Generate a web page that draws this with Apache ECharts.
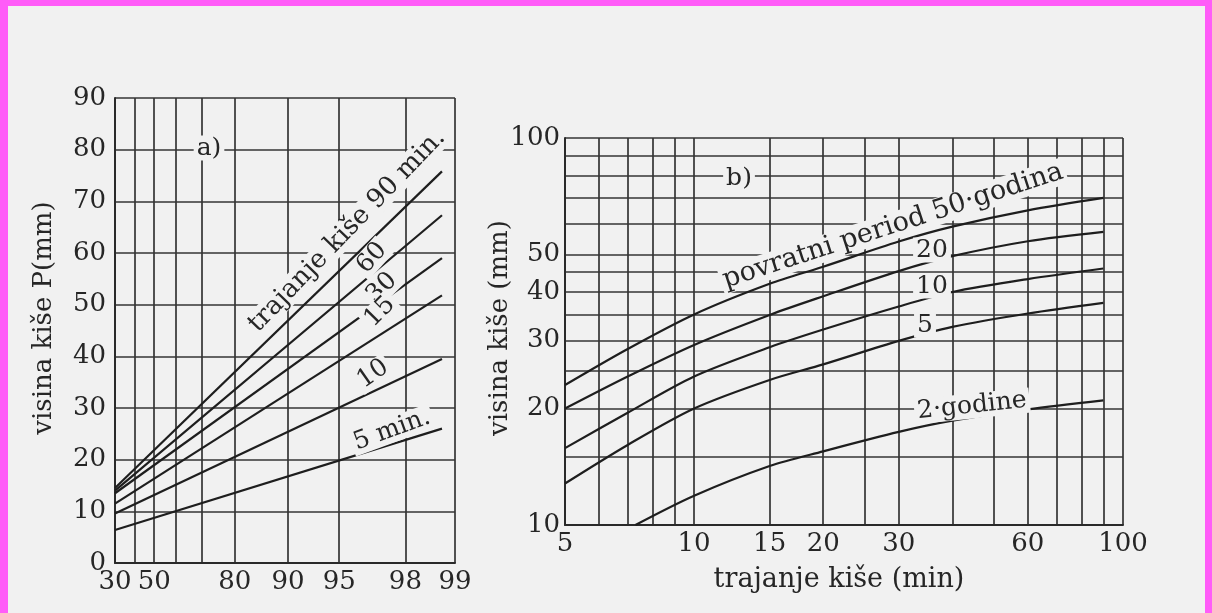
<!DOCTYPE html>
<html>
<head>
<meta charset="utf-8">
<script src="https://cdn.jsdelivr.net/npm/echarts@6/dist/echarts.min.js"></script>
<style>
  html, body { margin: 0; padding: 0; background: #ff5cf8; }
  #paper { position: absolute; left: 8px; top: 6px; width: 1197px; height: 607px; background: #f1f1f1; }
  #chart { position: absolute; left: 0; top: 0; width: 1212px; height: 613px; }
</style>
</head>
<body>
<div id="paper"></div>
<div id="chart"></div>
<script>
// ---------- panel a) : depth vs. probability (Gumbel probability paper) ----------
const probGrid   = [30, 40, 50, 60, 70, 80, 90, 95, 98, 99];
const probLabels = [30, 50, 80, 90, 95, 98, 99];
const probEnds   = [30, 98.8];          // each duration line runs between these probabilities
const depth5min  = [6.4, 26.0];
const depth10min = [9.6, 39.5];
const depth15min = [11.5, 51.8];
const depth30min = [13.5, 59.0];
const depth60min = [14.0, 67.3];
const depth90min = [14.5, 75.8];

// ---------- panel b) : depth vs. duration (log-log) ----------
const durGrid     = [5, 6, 7, 8, 9, 10, 15, 20, 25, 30, 40, 50, 60, 70, 80, 90, 100];
const durLabels   = [5, 10, 15, 20, 30, 60, 100];
const depthGridB  = [10, 15, 20, 25, 30, 35, 40, 45, 50, 60, 70, 80, 90, 100];
const depthLabelB = [10, 20, 30, 40, 50, 100];
const durations   = [5, 7, 10, 15, 20, 30, 40, 60, 90];
const rp50 = [23.0, 28.5, 35.0, 42.0, 46.5, 54.0, 59.0, 65.0, 70.0];
const rp20 = [20.0, 24.2, 29.2, 34.9, 39.0, 45.3, 49.5, 54.1, 57.2];
const rp10 = [15.8, 19.5, 24.2, 28.8, 32.0, 36.7, 40.0, 43.2, 46.0];
const rp5  = [12.8, 16.1, 20.0, 23.7, 26.0, 29.9, 32.5, 35.2, 37.5];
const durations2 = [7.3, 10, 15, 20, 30, 40, 60, 90];
const rp2  = [10.0, 11.9, 14.2, 15.5, 17.4, 18.6, 19.9, 21.0];

// Gumbel reduced variate for a non-exceedance probability in %
const gumbel = p => -Math.log(-Math.log(p / 100));
const ungumbel = v => 100 * Math.exp(-Math.exp(-v));
const lg = Math.log10;

const INK = '#262626';
const PAPER = '#f1f1f1';
const FONT = '"DejaVu Serif", "Liberation Serif", serif';
const gridLine = { show: true, lineStyle: { color: '#353535', width: 1.7 } };
const axisLine = { show: true, onZero: false, lineStyle: { color: '#2a2a2a', width: 2 } };
const labelStyle = { color: INK, fontFamily: FONT, fontSize: 26 };

const chart = echarts.init(document.getElementById('chart'), null, { renderer: 'canvas' });

function lineSeries(xi, yi, pts) {
  return {
    type: 'line', xAxisIndex: xi, yAxisIndex: yi, data: pts,
    symbol: 'none', smooth: xi === 1 ? 0.3 : false,
    lineStyle: { color: '#1e1e1e', width: 2.2 }, silent: true, z: 3
  };
}
const aLine = vals => lineSeries(0, 0, probEnds.map((p, i) => [gumbel(p), vals[i]]));
const bLine = (durs, vals) => lineSeries(1, 1, durs.map((d, i) => [lg(d), lg(vals[i])]));

const option = {
  backgroundColor: 'transparent',
  animation: false,
  grid: [
    { left: 115, top: 98, width: 340, height: 465 },
    { left: 565, top: 138, width: 558, height: 387 }
  ],
  xAxis: [
    {
      gridIndex: 0, type: 'value',
      min: gumbel(probGrid[0]), max: gumbel(probGrid[probGrid.length - 1]),
      axisLine: axisLine,
      axisTick: { show: false, customValues: probGrid.map(gumbel) },
      splitLine: gridLine,
      axisLabel: Object.assign({}, labelStyle, {
        customValues: probLabels.map(gumbel), margin: 6,
        formatter: v => String(Math.round(ungumbel(v)))
      })
    },
    {
      gridIndex: 1, type: 'value',
      min: lg(durGrid[0]), max: lg(durGrid[durGrid.length - 1]),
      axisLine: axisLine,
      axisTick: { show: false, customValues: durGrid.map(lg) },
      splitLine: gridLine,
      axisLabel: Object.assign({}, labelStyle, {
        customValues: durLabels.map(lg), margin: 6,
        formatter: v => String(Math.round(Math.pow(10, v)))
      })
    }
  ],
  yAxis: [
    {
      gridIndex: 0, type: 'value', min: 0, max: 90, interval: 10,
      axisLine: axisLine, axisTick: { show: false }, splitLine: gridLine,
      axisLabel: Object.assign({}, labelStyle, { margin: 9 })
    },
    {
      gridIndex: 1, type: 'value',
      min: lg(depthGridB[0]), max: lg(depthGridB[depthGridB.length - 1]),
      axisLine: axisLine,
      axisTick: { show: false, customValues: depthGridB.map(lg) },
      splitLine: gridLine,
      axisLabel: Object.assign({}, labelStyle, {
        customValues: depthLabelB.map(lg), margin: 5,
        formatter: v => String(Math.round(Math.pow(10, v)))
      })
    }
  ],
  series: [
    aLine(depth5min), aLine(depth10min), aLine(depth15min),
    aLine(depth30min), aLine(depth60min), aLine(depth90min),
    bLine(durations, rp50), bLine(durations, rp20), bLine(durations, rp10),
    bLine(durations, rp5), bLine(durations2, rp2)
  ]
};

// texts written onto the plots (the paper colour behind them breaks the lines they sit on)
function txt(s, x, y, deg, size, bg) {
  return {
    type: 'text', x: x, y: y, rotation: deg * Math.PI / 180, z: 20,
    style: {
      text: s, font: (size || 24) + 'px ' + FONT, fill: INK,
      align: 'center', verticalAlign: 'middle', lineHeight: size,
      backgroundColor: bg === false ? null : PAPER, padding: [0, 3]
    }
  };
}
option.graphic = [
  txt('visina kiše P(mm)', 44, 318, 90, 26, false),
  txt('visina kiše (mm)', 500, 328, 90, 26, false),
  txt('trajanje kiše (min)', 839, 580, 0, 27, false),
  txt('a)', 209, 148, 0, 25),
  txt('b)', 739, 178, 0, 25),
  txt('trajanje kiše 90 min.', 347, 231, 46, 26),
  txt('60', 372, 258, 48, 25),
  txt('30', 382, 288, 45, 25),
  txt('15', 380, 312, 45, 25),
  txt('10', 373, 374, 35, 25),
  txt('5 min.', 392, 430, 20, 25),
  txt('povratni period 50·godina', 893, 226, 18, 27),
  txt('20', 932, 250, 0, 25),
  txt('10', 932, 286, 0, 25),
  txt('5', 925, 325, 0, 25),
  txt('2·godine', 972, 406, 6, 25)
];

chart.setOption(option);
</script>
</body>
</html>
